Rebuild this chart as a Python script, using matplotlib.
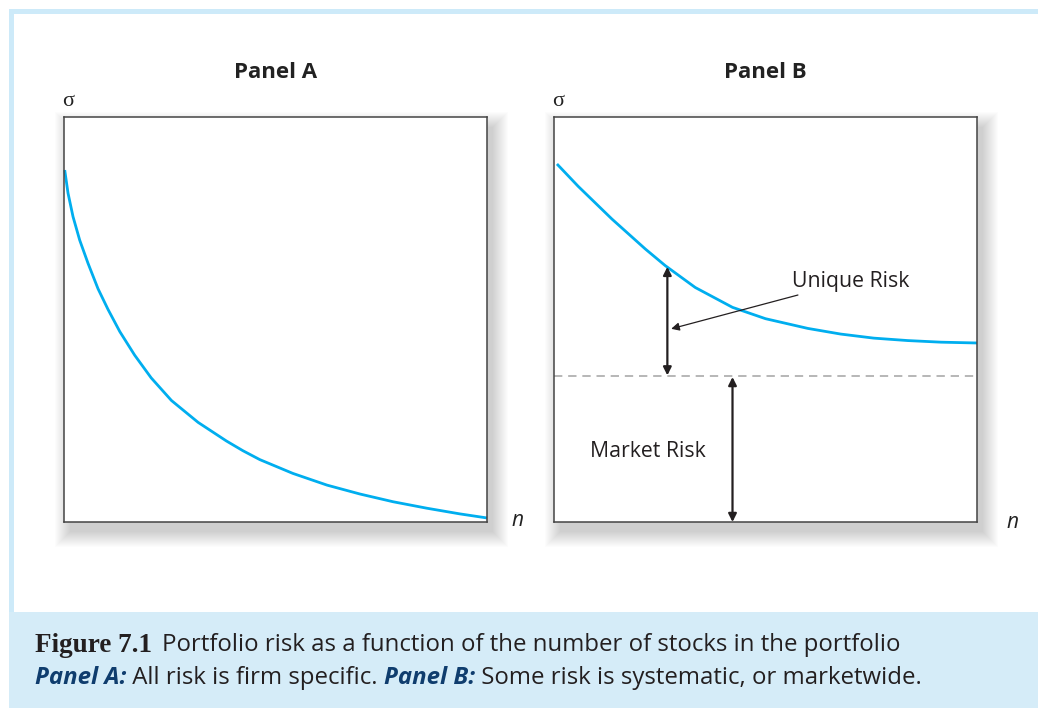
import matplotlib
matplotlib.use("Agg")
import matplotlib.pyplot as plt
from matplotlib.patches import Rectangle

# Panel A: all risk is firm specific (sigma falls toward zero)
n_a = [0.17, 0.95, 2.13, 3.71, 5.67, 8.04, 10.4, 13.2, 16.7, 20.6, 25.4, 31.7, 38.4,
       42.3, 46.3, 54.1, 62.2, 70.0, 77.8, 85.8, 93.6, 100]
sigma_a = [86.9, 81.2, 75.4, 69.6, 63.9, 57.6, 52.5, 47.0, 41.2, 35.6, 30.0, 24.6, 20.0,
           17.6, 15.4, 12.0, 9.1, 6.9, 5.0, 3.4, 2.0, 1.0]

# Panel B: sigma levels off at the market risk
n_b = [0.7, 5.7, 13.7, 21.6, 26.3, 33.4, 42.2, 50.0, 60.0, 67.8, 75.6, 83.6, 91.5, 100]
sigma_b = [88.4, 82.9, 74.8, 67.4, 63.3, 57.9, 53.0, 50.2, 47.8, 46.4, 45.4, 44.8, 44.4, 44.2]
market_level = 36.0
unique_arrow_n = 26.8
unique_arrow_top = 63.0
market_arrow_n = 42.2

panel_titles = ["Panel A", "Panel B"]
caption_title = "Figure 7.1"
caption_line1 = "Portfolio risk as a function of the number of stocks in the portfolio"

W, H = 1038, 708
BLUE = "#00aeef"
FRAME = "#cdeaf9"
CAPTION_BG = "#d5ecf8"
INK = "#231f20"
SANS = ["Open Sans", "DejaVu Sans"]
SERIF = ["Liberation Serif", "DejaVu Serif"]

fig = plt.figure(figsize=(W / 100, H / 100), dpi=100)


def frac(x0, y0, x1, y1):
    # pixel box (top-left origin) -> figure fraction [l, b, w, h]
    return [x0 / W, 1 - y1 / H, (x1 - x0) / W, (y1 - y0) / H]


bg = fig.add_axes([0, 0, 1, 1])
bg.set_xlim(0, W)
bg.set_ylim(H, 0)
bg.axis("off")

# light blue frame and caption box
bg.add_patch(Rectangle((9, 9), W - 9, 5, color=FRAME, lw=0))
bg.add_patch(Rectangle((9, 9), 5, 603, color=FRAME, lw=0))
bg.add_patch(Rectangle((9, 612), W - 9, H - 612, color=CAPTION_BG, lw=0))

boxes = [(64, 117, 487, 522), (554, 117, 977, 522)]

# soft drop shadows, pushed to the lower right
for (x0, y0, x1, y1) in boxes:
    for i in range(16):
        bg.add_patch(Rectangle((x0 + 6 - i, y0 + 10 - i),
                               (x1 - x0) + 2 * i, (y1 - y0) + 2 * i,
                               color="black", alpha=0.013, lw=0))

axes = []
for (x0, y0, x1, y1), title in zip(boxes, panel_titles):
    ax = fig.add_axes(frac(x0, y0, x1, y1))
    ax.set_xlim(0, 100)
    ax.set_ylim(0, 100)
    ax.set_xticks([])
    ax.set_yticks([])
    for s in ax.spines.values():
        s.set_color("#444444")
        s.set_linewidth(1.1)
    cx = (x0 + x1) / 2
    bg.text(cx, 72, title, ha="center", va="center", fontsize=16,
            fontweight="bold", family=SANS, color="#222222")
    bg.text(x0 + 4, 101, "σ", ha="center", va="center", fontsize=16,
            family=SERIF, color="#222222")
    axes.append(ax)

bg.text(517, 521, "n", ha="center", va="center", fontsize=15, style="italic",
        family=SANS, color="#222222")
bg.text(1012, 523, "n", ha="center", va="center", fontsize=15, style="italic",
        family=SANS, color="#222222")

ax_a, ax_b = axes
line_kw = dict(color=BLUE, lw=2.0, solid_capstyle="butt", solid_joinstyle="round",
               clip_on=False)
ax_a.plot(n_a, sigma_a, **line_kw)
ax_b.plot(n_b, sigma_b, **line_kw)
ax_b.axhline(market_level, color="#aaaaaa", lw=1.2, dashes=(5, 3.5))

arrow_kw = dict(arrowstyle="<|-|>", color=INK, lw=1.6,
                mutation_scale=12, shrinkA=0, shrinkB=0)
ax_b.annotate("", xy=(unique_arrow_n, unique_arrow_top),
              xytext=(unique_arrow_n, market_level + 0.2), arrowprops=arrow_kw)
ax_b.annotate("", xy=(market_arrow_n, market_level - 0.2),
              xytext=(market_arrow_n, 0), arrowprops=arrow_kw)

ax_b.annotate("Unique Risk", xy=(27.7, 47.7), xytext=(56.2, 59.5),
              ha="left", va="center", fontsize=15.3, family=SANS, color=INK,
              arrowprops=dict(arrowstyle="-|>", color=INK, lw=0.9,
                              mutation_scale=12, shrinkA=2, shrinkB=0))
ax_b.text(8.5, 17.5, "Market Risk", ha="left", va="center", fontsize=15.3,
          family=SANS, color=INK)

# caption
t1 = bg.text(35, 645, caption_title, ha="left", va="center", fontsize=19.5,
             fontweight="bold", family=SERIF, color=INK)
bg.annotate(caption_line1, xy=(1, 0.5), xycoords=t1, xytext=(7, 0),
            textcoords="offset points", ha="left", va="center",
            fontsize=17.3, family=SANS, color=INK)

pieces = [("Panel A:", True), (" All risk is firm specific. ", False),
          ("Panel B:", True), (" Some risk is systematic, or marketwide.", False)]
prev = None
for txt, emph in pieces:
    kw = dict(fontsize=17.3, family=SANS, color=INK, ha="left", va="center")
    if emph:
        kw.update(fontweight="bold", style="italic", color="#0f3d6e")
    if prev is None:
        prev = bg.text(35, 678, txt, **kw)
    else:
        prev = bg.annotate(txt, xy=(1, 0.5), xycoords=prev, **kw)

fig.savefig("out.png", dpi=100)
